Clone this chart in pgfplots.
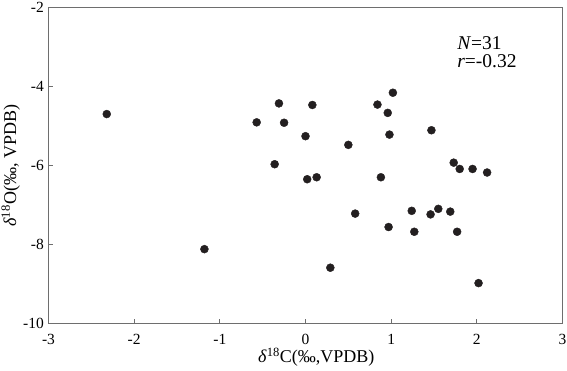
\documentclass[border=0pt]{standalone}
\usepackage{fontspec}
\setmainfont{Liberation Serif}
\usepackage{pgfplots}
\pgfplotsset{compat=1.18}
\definecolor{dotc}{HTML}{231F20}
\definecolor{axc}{HTML}{6E6E6E}
\begin{document}
\begin{tikzpicture}
\useasboundingbox (-48.5pt,-47.2pt) rectangle (518.5pt,323.8pt);
\begin{axis}[
  at={(0,0)}, anchor=south west,
  scale only axis, width=514pt, height=316pt,
  xmin=-3, xmax=3, ymin=-10, ymax=-2,
  xtick={-3,-2,-1,0,1,2,3}, ytick={-10,-8,-6,-4,-2},
  tick align=inside, tick pos=left,
  major tick length=5pt,
  axis line style={axc, line width=1.2pt},
  every tick/.style={axc, line width=1pt},
  /pgf/number format/assume math mode=true,
  ticklabel style={font=\fontsize{15.5}{17}\selectfont},
  xticklabel style={anchor=base, yshift=-20.5pt},
  yticklabel style={inner sep=0pt, xshift=-4.5pt},
  xlabel={\textit{δ}\textsuperscript{18}C(‰,VPDB)},
  ylabel={\textit{δ}\textsuperscript{18}O(‰, VPDB)},
  label style={font=\fontsize{18}{20}\selectfont, inner sep=0pt},
  xlabel style={at={(axis description cs:0.4076,-0.124)}, anchor=base west},
  ylabel style={at={(axis description cs:-0.063,0.5)}, anchor=base, rotate=0},
]
\addplot[only marks, mark=*, mark size=4pt, color=dotc] coordinates {
(-2.32,-4.69) (-1.18,-8.11)
(-0.31,-4.42) (0.08,-4.46) (0.84,-4.45) (1.02,-4.15) (0.96,-4.66)
(-0.57,-4.90) (-0.25,-4.91) (0.00,-5.25) (0.98,-5.21) (0.50,-5.47)
(-0.36,-5.96) (0.02,-6.34) (0.13,-6.29) (0.88,-6.29) (0.58,-7.21)
(0.97,-7.55) (0.29,-8.58)
(1.47,-5.10) (1.73,-5.92) (1.80,-6.08) (1.95,-6.08) (2.12,-6.17)
(1.24,-7.14) (1.46,-7.23) (1.55,-7.09) (1.69,-7.16) (1.27,-7.67)
(1.77,-7.67) (2.02,-8.97)
};
\node[anchor=base west, inner sep=0pt, font=\fontsize{19.5}{21}\selectfont] at (rel axis cs:0.795,0.869) {\textit{N}=31};
\node[anchor=base west, inner sep=0pt, font=\fontsize{19.5}{21}\selectfont] at (rel axis cs:0.795,0.812) {\textit{r}=-0.32};
\end{axis}
\end{tikzpicture}
\end{document}
